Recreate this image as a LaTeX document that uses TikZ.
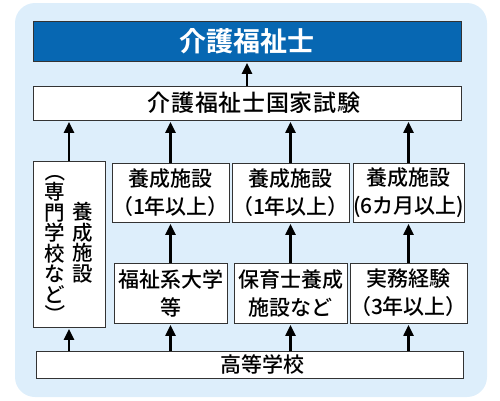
\documentclass[tikz,border=0pt]{standalone}
\usepackage{fontspec}
\setmainfont{Noto Sans CJK JP Medium}[BoldFont=Noto Sans CJK JP Bold]
\usepackage{graphicx}
\usetikzlibrary{arrows.meta,calc}
\definecolor{bgblue}{RGB}{221,238,251}
\definecolor{titleblue}{RGB}{7,103,178}
\newcommand{\vparen}[1]{\rotatebox[origin=c]{-90}{#1}}

\begin{document}
\begin{tikzpicture}[x=1pt,y=-1pt,
		box/.style={draw=black!80,line width=0.8pt,fill=white,inner sep=0pt,align=center,font=\fontsize{21}{28}\selectfont},
		vcol/.style={inner sep=0pt,align=center,font=\fontsize{20.5}{20.5}\selectfont},
		up/.style={-{Triangle[width=10pt,length=11pt]},line width=2.2pt,shorten >=1.5pt}]
		\useasboundingbox (0,0) rectangle (500,400);
		\fill[bgblue,rounded corners=20pt] (15,3) rectangle (487,397);
%
		\node[box,fill=titleblue,text=white,minimum width=428pt,minimum height=40pt,font=\fontsize{27}{30}\selectfont\bfseries] (T) at (247,41) {介護福祉士};
		\node[box,minimum width=428pt,minimum height=34pt,font=\fontsize{23}{28}\selectfont\addfontfeature{LetterSpace=3}] (E) at (247,103) {\hspace*{14pt}介護福祉士国家試験};
%
		\node[box,minimum width=72pt,minimum height=166pt] (L) at (69,244) {};
		\node[vcol] (Lp) at (55,243) {\vparen{（}\\専\\門\\学\\校\\な\\ど\\\vparen{）}};
		\node[vcol] (Ln) at (83,242.5) {養\\成\\施\\設};
%
		\node[box,minimum width=113pt,minimum height=59pt] (A1) at (170.5,192.5) {養成施設\\（1年以上）};
		\node[box,minimum width=113pt,minimum height=59pt] (A2) at (290.5,192.5) {養成施設\\（1年以上）};
		\node[box,minimum width=111pt,minimum height=59pt] (A3) at (408.5,192.5) {養成施設\\(6カ月以上)};
		\node[box,minimum width=113pt,minimum height=60pt] (B1) at (170.5,293) {福祉系大学\\等};
		\node[box,minimum width=113pt,minimum height=60pt] (B2) at (290.5,293) {保育士養成\\施設など};
		\node[box,minimum width=111pt,minimum height=60pt] (B3) at (408.5,293) {実務経験\\（3年以上）};
%
		\node[box,minimum width=427pt,minimum height=27pt] (S) at (249.5,364.5) {\hspace*{25pt}高等学校};
%
		\path[up]
			(E) edge (T)
			(L.north) edge (L.north |- E.south)
			(A1.north) edge (A1.north |- E.south)
			(A2.north) edge (A2.north |- E.south)
			(A3.north) edge (A3.north |- E.south);
		\path[up]
			(B1) edge (A1)
			(B2) edge (A2)
			(B3) edge (A3);
		\path[up]
			(S.north -| L.south) edge (L.south)
			(S.north -| B1.south) edge (B1.south)
			(S.north -| B2.south) edge (B2.south)
			(S.north -| B3.south) edge (B3.south);
	\end{tikzpicture}
\end{document}
